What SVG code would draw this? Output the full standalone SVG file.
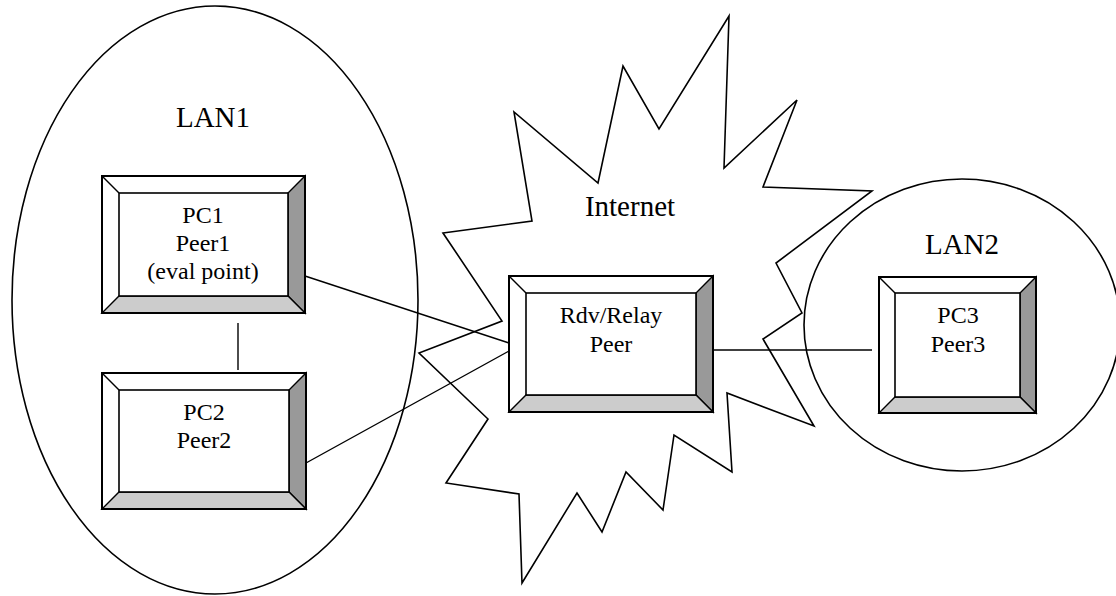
<svg xmlns="http://www.w3.org/2000/svg" width="1116" height="596" viewBox="0 0 1116 596">
  <style>
    .outline { fill: none; stroke: #000; stroke-width: 1.6; }
    .wire { fill: none; stroke: #000; stroke-width: 1.4; }
    .face { fill: #fff; stroke: #000; stroke-width: 2; }
    .inner { fill: #fff; stroke: #000; stroke-width: 1.6; }
    .side { fill: #999; stroke: #000; stroke-width: 1.4; stroke-linejoin: miter; }
    .base { fill: #ccc; stroke: #000; stroke-width: 1.4; }
    .edge { stroke: #000; stroke-width: 1.4; }
    .big { font-family: "Liberation Serif", "Times New Roman", serif; font-size: 29px; fill: #000; text-anchor: middle; }
    .lbl { font-family: "Liberation Serif", "Times New Roman", serif; font-size: 24px; fill: #000; text-anchor: middle; }
  </style>

  <!-- network areas -->
  <g id="lan1">
    <ellipse class="outline" cx="215" cy="300" rx="203" ry="294"/>
    <text class="big" x="213" y="127">LAN1</text>
  </g>
  <g id="internet">
    <polygon class="outline" points="443,233 532,221 514,112 598,183 623,66 659,129 729,16 724,168 797,100 763,187 872,191 776,263 802,313 763,339 814,426 727,393 732,472 674,435 663,510 626,472 602,532 577,493 522,583 519,494 446,483 488,419 419,353 502,321"/>
    <text class="big" x="630" y="216">Internet</text>
  </g>
  <g id="lan2">
    <ellipse class="outline" cx="962" cy="325" rx="158" ry="146"/>
    <text class="big" x="962" y="254">LAN2</text>
  </g>

  <!-- links -->
  <g id="connectors">
    <line class="wire" x1="238" y1="323" x2="238" y2="370"/>
    <line class="wire" x1="305" y1="276" x2="509" y2="343"/>
    <line class="wire" x1="306" y1="463" x2="509" y2="351"/>
    <line class="wire" x1="713" y1="350" x2="872" y2="350"/>
  </g>

  <!-- peers -->
  <g id="pc1">
    <rect class="face" x="102" y="176" width="203" height="137"/>
    <polygon class="side" points="305,176 305,313 288,296 288,193"/>
    <polygon class="base" points="102,313 305,313 288,296 119,296"/>
    <line class="edge" x1="102" y1="176" x2="119" y2="193"/>
    <rect class="inner" x="119" y="193" width="169" height="103"/>
    <rect x="102" y="176" width="203" height="137" fill="none" stroke="#000" stroke-width="2"/>
    <text class="lbl" x="203" y="223">PC1</text>
    <text class="lbl" x="203" y="251">Peer1</text>
    <text class="lbl" x="203" y="279">(eval point)</text>
  </g>

  <g id="pc2">
    <rect class="face" x="102" y="373" width="204" height="136"/>
    <polygon class="side" points="306,373 306,509 289,492 289,390"/>
    <polygon class="base" points="102,509 306,509 289,492 119,492"/>
    <line class="edge" x1="102" y1="373" x2="119" y2="390"/>
    <rect class="inner" x="119" y="390" width="170" height="102"/>
    <rect x="102" y="373" width="204" height="136" fill="none" stroke="#000" stroke-width="2"/>
    <text class="lbl" x="204" y="420">PC2</text>
    <text class="lbl" x="204" y="448">Peer2</text>
  </g>

  <g id="relay">
    <rect class="face" x="509" y="276" width="204" height="136"/>
    <polygon class="side" points="713,276 713,412 696,395 696,293"/>
    <polygon class="base" points="509,412 713,412 696,395 526,395"/>
    <line class="edge" x1="509" y1="276" x2="526" y2="293"/>
    <rect class="inner" x="526" y="293" width="170" height="102"/>
    <rect x="509" y="276" width="204" height="136" fill="none" stroke="#000" stroke-width="2"/>
    <text class="lbl" x="611" y="323">Rdv/Relay</text>
    <text class="lbl" x="611" y="352">Peer</text>
  </g>

  <g id="pc3">
    <rect class="face" x="879" y="277" width="157" height="136"/>
    <polygon class="side" points="1036,277 1036,413 1020,397 1020,293"/>
    <polygon class="base" points="879,413 1036,413 1020,397 895,397"/>
    <line class="edge" x1="879" y1="277" x2="895" y2="293"/>
    <rect class="inner" x="895" y="293" width="125" height="104"/>
    <rect x="879" y="277" width="157" height="136" fill="none" stroke="#000" stroke-width="2"/>
    <text class="lbl" x="958" y="323">PC3</text>
    <text class="lbl" x="958" y="352">Peer3</text>
  </g>
</svg>
